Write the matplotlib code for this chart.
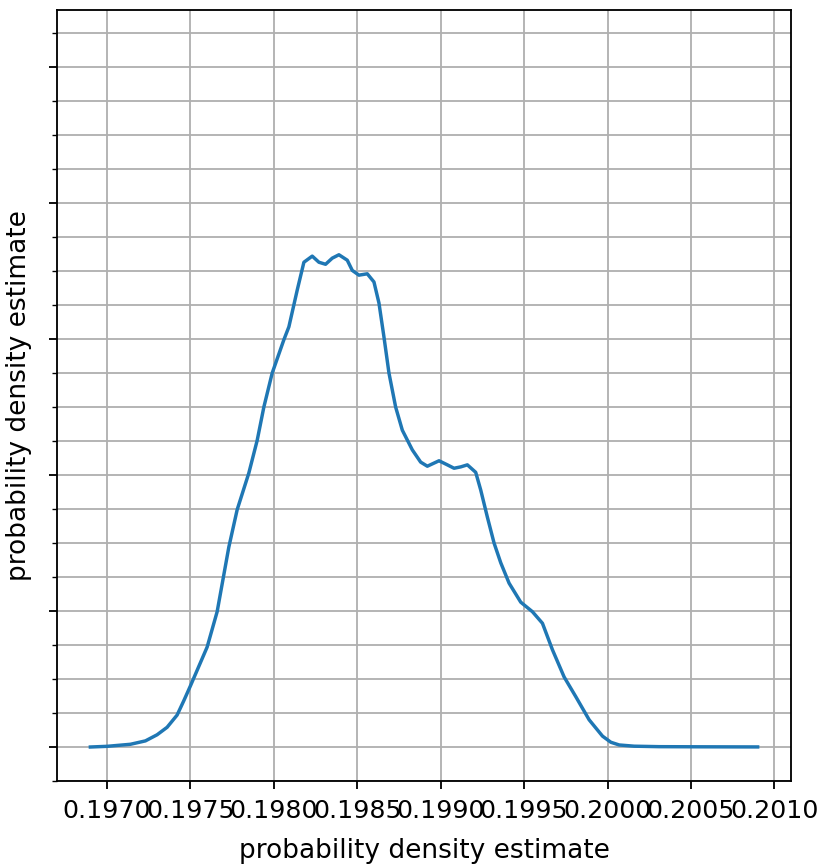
import matplotlib
matplotlib.use("Agg")
import matplotlib.pyplot as plt
from matplotlib.ticker import MultipleLocator, NullFormatter

x_values = [0.19690, 0.19700, 0.19714, 0.19723, 0.19730, 0.19736, 0.19742, 0.19746,
            0.19750, 0.19760,
            0.19766, 0.19773, 0.19778, 0.19785, 0.19790, 0.19794, 0.19799, 0.19806,
            0.19809, 0.19814, 0.19818, 0.19823, 0.19827, 0.19831, 0.19835, 0.19839,
            0.19844, 0.19847, 0.19851, 0.19856, 0.19860, 0.19863, 0.19866, 0.19869,
            0.19873, 0.19877, 0.19883, 0.19888, 0.19892, 0.19899, 0.19904, 0.19908,
            0.19912, 0.19916, 0.19921, 0.19924, 0.19928, 0.19932, 0.19936, 0.19941,
            0.19948, 0.19955, 0.19961, 0.19967, 0.19974, 0.19981, 0.19989, 0.19997,
            0.20002, 0.20007, 0.20016, 0.20031, 0.20055, 0.20090]
density = [0, 1, 4, 9, 18, 29, 47, 68,
           90, 147,
           199, 294, 349, 403, 451, 500, 550, 599,
           618, 672, 713, 722, 713, 710, 719, 724,
           716, 701, 694, 696, 684, 653, 603, 550,
           500, 466, 437, 419, 413, 421, 415, 410,
           412, 415, 404, 378, 338, 300, 271, 241,
           213, 199, 182, 143, 103, 74, 40, 16,
           7, 3, 1.2, 0.5, 0.3, 0.1]

x_ticks = [0.1970, 0.1975, 0.1980, 0.1985, 0.1990, 0.1995, 0.2000, 0.2005, 0.2010]
x_tick_labels = ["0.1970", "0.1975", "0.1980", "0.1985", "0.1990", "0.1995", "0.2000", "0.2005", "0.2010"]
y_label = "probability density estimate"
x_label = "probability density estimate"

plt.rcParams["font.size"] = 11

fig = plt.figure(figsize=(825 / 165, 865 / 165), dpi=165)
ax = fig.add_axes([57 / 825, 1 - 781 / 865, (791 - 57) / 825, (781 - 10) / 865])
ax.plot(x_values, density, color="#1f77b4", linewidth=1.5)
ax.set_xlim(0.19670, 0.20110)
ax.set_ylim(-50, 1084)
ax.set_xticks(x_ticks)
ax.set_xticklabels(x_tick_labels)
ax.tick_params(axis="x", which="major", pad=4.5)
ax.yaxis.set_major_locator(MultipleLocator(200))
ax.yaxis.set_minor_locator(MultipleLocator(50))
ax.yaxis.set_major_formatter(NullFormatter())
ax.grid(True, which="major", axis="both")
ax.grid(True, which="minor", axis="y")
ax.set_xlabel(x_label, fontsize=11.5, labelpad=6.5)
ax.set_ylabel(y_label, fontsize=11.5, labelpad=4)
fig.savefig("out.png", dpi=165)
